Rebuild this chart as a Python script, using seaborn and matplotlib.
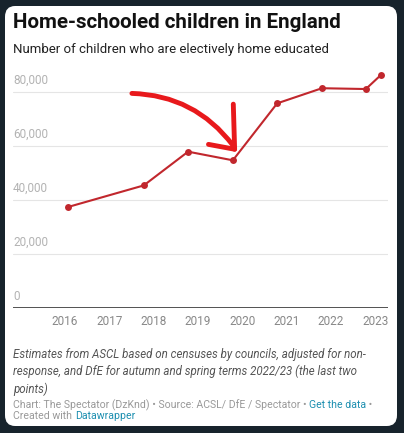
import matplotlib
matplotlib.use("Agg")
import matplotlib.pyplot as plt
from matplotlib.patches import FancyBboxPatch
import pandas as pd
import seaborn as sns

# -----------------------------------------
# Data
# -----------------------------------------
year_pos = [2016.07, 2017.78, 2018.78, 2019.79, 2020.79, 2021.80, 2022.79, 2023.13]
children = [37400, 45400, 57900, 54700, 75800, 81400, 81100, 86300]
x_ticks = [2016, 2017, 2018, 2019, 2020, 2021, 2022, 2023]
y_ticks = [0, 20000, 40000, 60000, 80000]
y_labels = ["0", "20,000", "40,000", "60,000", "80,000"]

df = pd.DataFrame({"year": year_pos, "children": children})

sns.set_theme(style="white")
plt.rcParams["font.family"] = ["Roboto", "DejaVu Sans"]

W, H = 404, 433
fig = plt.figure(figsize=(W / 100, H / 100), dpi=100)
fig.patch.set_facecolor("#17232c")

# white card
card = FancyBboxPatch((5 / W, 7 / H), 392 / W, 420 / H,
                      boxstyle="round,pad=0,rounding_size=0.025",
                      transform=fig.transFigure, facecolor="white",
                      edgecolor="none", zorder=0)
fig.patches.append(card)

# -----------------------------------------
# Axes
# -----------------------------------------
ax = fig.add_axes([13 / W, 1 - 308 / H, 375 / W, (308 - 65) / H])
ax.set_zorder(2)
ax.set_facecolor("none")
ax.set_xlim(2014.83, 2023.29)
ax.set_ylim(0, 90000)

for v in y_ticks[1:]:
    ax.axhline(v, color="#e5e5e5", lw=0.8, zorder=1)
ax.axhline(0, color="#444444", lw=1.3, zorder=2)

for v, lab in zip(y_ticks, y_labels):
    ax.text(0, v + 1900, lab, transform=ax.get_yaxis_transform(),
            ha="left", va="bottom", fontsize=8.5, color="#b3b3b3")

sns.lineplot(data=df, x="year", y="children", ax=ax, color="#c1272d",
             lw=1.5, marker="o", markersize=5, markeredgewidth=0, zorder=3)

ax.set_xticks(x_ticks)
ax.set_xticklabels([str(y) for y in x_ticks], fontsize=8.5, color="#888888")
ax.tick_params(axis="x", length=0, pad=5)
ax.set_yticks([])
ax.set_xlabel("")
ax.set_ylabel("")
for s in ax.spines.values():
    s.set_visible(False)

# hand-drawn red arrow overlay
arrow_red = "#e8191c"
ax.annotate("", xy=(2019.83, 59400), xytext=(2017.45, 79500),
            arrowprops=dict(arrowstyle="-", color=arrow_red, lw=3.5,
                            connectionstyle="arc3,rad=-0.25",
                            capstyle="round"), zorder=4)
ax.plot([2019.80, 2019.83], [75500, 58800], color=arrow_red, lw=3.5,
        solid_capstyle="round", zorder=4)
ax.plot([2019.24, 2019.83], [60600, 58800], color=arrow_red, lw=3.5,
        solid_capstyle="round", zorder=4)

# -----------------------------------------
# Titles and footer
# -----------------------------------------
fig.text(13 / W, 1 - 22 / H, "Home-schooled children in England",
         fontsize=14.8, fontweight="bold", color="#111111", va="center")
fig.text(13 / W, 1 - 50 / H, "Number of children who are electively home educated",
         fontsize=9.5, color="#222222", va="center")

notes = ("Estimates from ASCL based on censuses by councils, adjusted for non-\n"
         "response, and DfE for autumn and spring terms 2022/23 (the last two\n"
         "points)")
fig.text(13 / W, 1 - 348 / H, notes, fontsize=8.3, style="italic",
         color="#555555", va="top", linespacing=1.38)

fig.canvas.draw()
renderer = fig.canvas.get_renderer()


def chain(parts, x, y):
    for txt, col in parts:
        t = fig.text(x, y, txt, fontsize=7.55, color=col, va="center")
        bb = t.get_window_extent(renderer=renderer)
        x = bb.x1 / W


chain([("Chart: The Spectator (DzKnd) \u2022 Source: ACSL/ DfE / Spectator \u2022 ", "#999999"),
       ("Get the data", "#1d8fb0"), (" \u2022", "#999999")], 13 / W, 1 - 405 / H)
chain([("Created with ", "#999999"), ("Datawrapper", "#1d8fb0")], 13 / W, 1 - 416 / H)

plt.savefig("out.png", dpi=100, facecolor=fig.get_facecolor())
